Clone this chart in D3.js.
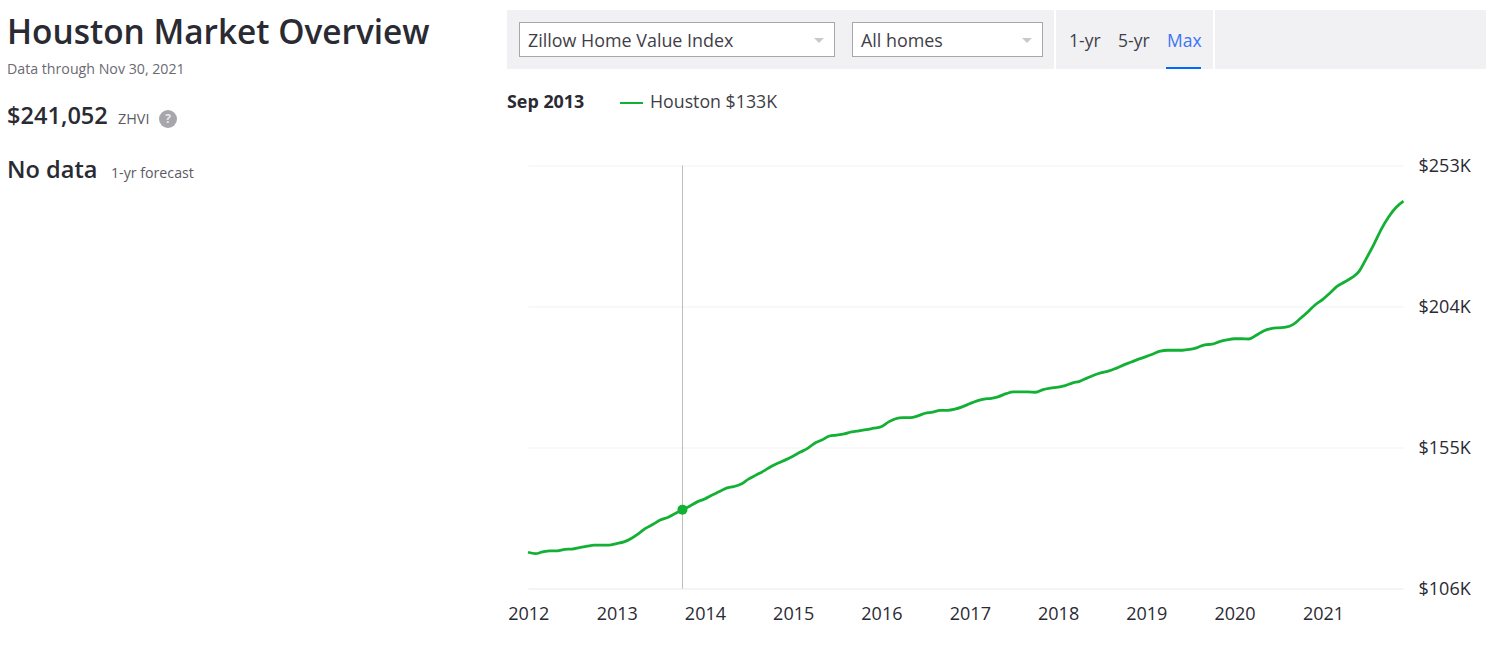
<!DOCTYPE html>
<html>
<head>
<meta charset="utf-8">
<script src="https://cdn.jsdelivr.net/npm/d3@7"></script>
<style>
  html, body { margin: 0; padding: 0; background: #fff; }
  body { width: 1500px; height: 659px; position: relative; overflow: hidden; font-family: "Open Sans", sans-serif; color: #2a2a33; }
  .abs { position: absolute; white-space: nowrap; line-height: 1; }
  .bar { position: absolute; top: 10px; height: 59px; background: #f1f1f4; }
  .select { position: absolute; top: 22px; height: 35px; box-sizing: border-box; background: #fff; border: 1px solid #a7a6ab; font-size: 17.9px; line-height: 35px; padding-left: 8px; color: #3f3e48; }
  .select::after { content: ""; position: absolute; right: 10px; top: 15px; border: 5px solid transparent; border-top: 5px solid #c9c9cd; border-bottom: 0; }
  #chart { position: absolute; left: 0; top: 0; }
  .axis text { font-family: "Open Sans", sans-serif; font-size: 18px; fill: #2a2a33; }
</style>
</head>
<body>
<div class="abs" style="left:7px;top:15px;font-size:33.4px;font-weight:600;" id="title">Houston Market Overview</div>
<div class="abs" style="left:7px;top:62px;font-size:14.2px;color:#6b6a73;">Data through Nov 30, 2021</div>
<div class="abs" style="left:7px;top:104px;font-size:23.6px;font-weight:600;">$241,052</div>
<div class="abs" style="left:118px;top:112px;font-size:14.4px;color:#5c5b64;">ZHVI</div>
<div class="abs" style="left:159px;top:110px;width:18px;height:18px;border-radius:9px;background:#a7a6ab;color:#e8e8ea;font-size:12px;font-weight:700;line-height:18px;text-align:center;">?</div>
<div class="abs" style="left:7px;top:158px;font-size:23.6px;font-weight:600;">No data</div>
<div class="abs" style="left:111px;top:166px;font-size:14.2px;color:#5c5b64;">1-yr forecast</div>

<div class="bar" style="left:507px;width:547px;"></div>
<div class="bar" style="left:1056px;width:157px;"></div>
<div class="bar" style="left:1215px;width:271px;"></div>
<div class="select" style="left:519px;width:316px;">Zillow Home Value Index</div>
<div class="select" style="left:852px;width:191px;">All homes</div>
<div class="abs" style="left:1069px;top:32px;font-size:17.5px;color:#3f3e48;">1-yr</div>
<div class="abs" style="left:1118px;top:32px;font-size:17.5px;color:#3f3e48;">5-yr</div>
<div class="abs" style="left:1167px;top:32px;font-size:17.5px;color:#3d74f5;">Max</div>
<div class="abs" style="left:1166px;top:67px;width:35px;height:2px;background:#006aff;"></div>

<div class="abs" style="left:507px;top:93px;font-size:17.9px;font-weight:700;">Sep 2013</div>
<div class="abs" style="left:620px;top:102px;width:23px;height:2px;background:#12b034;"></div>
<div class="abs" style="left:650px;top:93px;font-size:17.75px;color:#3f3e48;">Houston $133K</div>

<svg id="chart" width="1500" height="659"></svg>

<script>
// ZHVI in $K, one value per month-end, Dec 2011 to Nov 2021
const zhvi = [
  118.6, 118.1, 118.7, 119.1, 119.1, 119.6, 119.7, 120.2, 120.7, 121.1, 121.1, 121.1,
  121.6, 122.2, 123.3, 125.0, 126.9, 128.3, 129.8, 130.7, 132.1, 133.4, 134.7, 136.1,
  137.1, 138.5, 139.6, 140.9, 141.4, 142.3, 144.0, 145.4, 146.8, 148.3, 149.6, 150.7,
  152.0, 153.4, 154.6, 156.5, 157.6, 159.0, 159.3, 159.7, 160.4, 160.8, 161.2, 161.7,
  162.2, 163.9, 165.0, 165.4, 165.4, 166.0, 166.9, 167.3, 167.9, 167.9, 168.3, 169.1,
  170.2, 171.2, 171.8, 172.1, 172.7, 173.7, 174.3, 174.3, 174.3, 174.2, 175.1, 175.6,
  176.0, 176.5, 177.4, 178.0, 179.1, 180.2, 181.0, 181.6, 182.6, 183.7, 184.7, 185.7,
  186.6, 187.6, 188.5, 188.8, 188.8, 188.8, 189.1, 189.7, 190.7, 190.9, 191.8, 192.4,
  192.8, 192.8, 192.7, 194.0, 195.5, 196.3, 196.6, 196.8, 197.8, 199.9, 202.2, 204.6,
  206.5, 208.8, 211.0, 212.5, 214.0, 216.3, 220.8, 225.7, 231.0, 235.2, 238.5, 240.6
];
const yTicks = [106, 155, 204, 253];
const xYears = [2012, 2013, 2014, 2015, 2016, 2017, 2018, 2019, 2020, 2021];
const hoverIndex = 21; // Sep 2013

const monthEnd = (i) => new Date(2012, i, 0);

const x = d3.scaleTime()
  .domain([monthEnd(0), monthEnd(zhvi.length - 1)])
  .range([528, 1403.5]);
const y = d3.scaleLinear()
  .domain([106, 253])
  .range([588.5, 165.5]);

const svg = d3.select("#chart");

const yAxis = svg.append("g")
  .attr("class", "axis")
  .attr("transform", "translate(1403.5,0)")
  .call(d3.axisRight(y)
    .tickValues(yTicks)
    .tickSize(-875)
    .tickPadding(15)
    .tickFormat((d) => `$${d}K`));
yAxis.select(".domain").remove();
yAxis.selectAll("line").attr("stroke", (d) => d === 106 ? "#e9e9ec" : "#f1f1f4").attr("stroke-width", 1);

const xAxis = svg.append("g")
  .attr("class", "axis")
  .attr("transform", "translate(0,588.5)")
  .call(d3.axisBottom(x)
    .tickValues(xYears.map((yr) => new Date(yr, 0, 1)))
    .tickSize(0)
    .tickPadding(19)
    .tickFormat(d3.timeFormat("%Y")));
xAxis.select(".domain").remove();

svg.append("line")
  .attr("x1", Math.floor(x(monthEnd(hoverIndex))) + 0.5)
  .attr("x2", Math.floor(x(monthEnd(hoverIndex))) + 0.5)
  .attr("y1", y(253))
  .attr("y2", y(106))
  .attr("stroke", "#bdbdbd")
  .attr("stroke-width", 1);

const line = d3.line()
  .x((d, i) => x(monthEnd(i)))
  .y((d) => y(d))
  .curve(d3.curveMonotoneX);

svg.append("path")
  .datum(zhvi)
  .attr("d", line)
  .attr("fill", "none")
  .attr("stroke", "#12b034")
  .attr("stroke-width", 2.8);

svg.append("circle")
  .attr("cx", x(monthEnd(hoverIndex)))
  .attr("cy", y(zhvi[hoverIndex]))
  .attr("r", 5)
  .attr("fill", "#12b034");
</script>
</body>
</html>
